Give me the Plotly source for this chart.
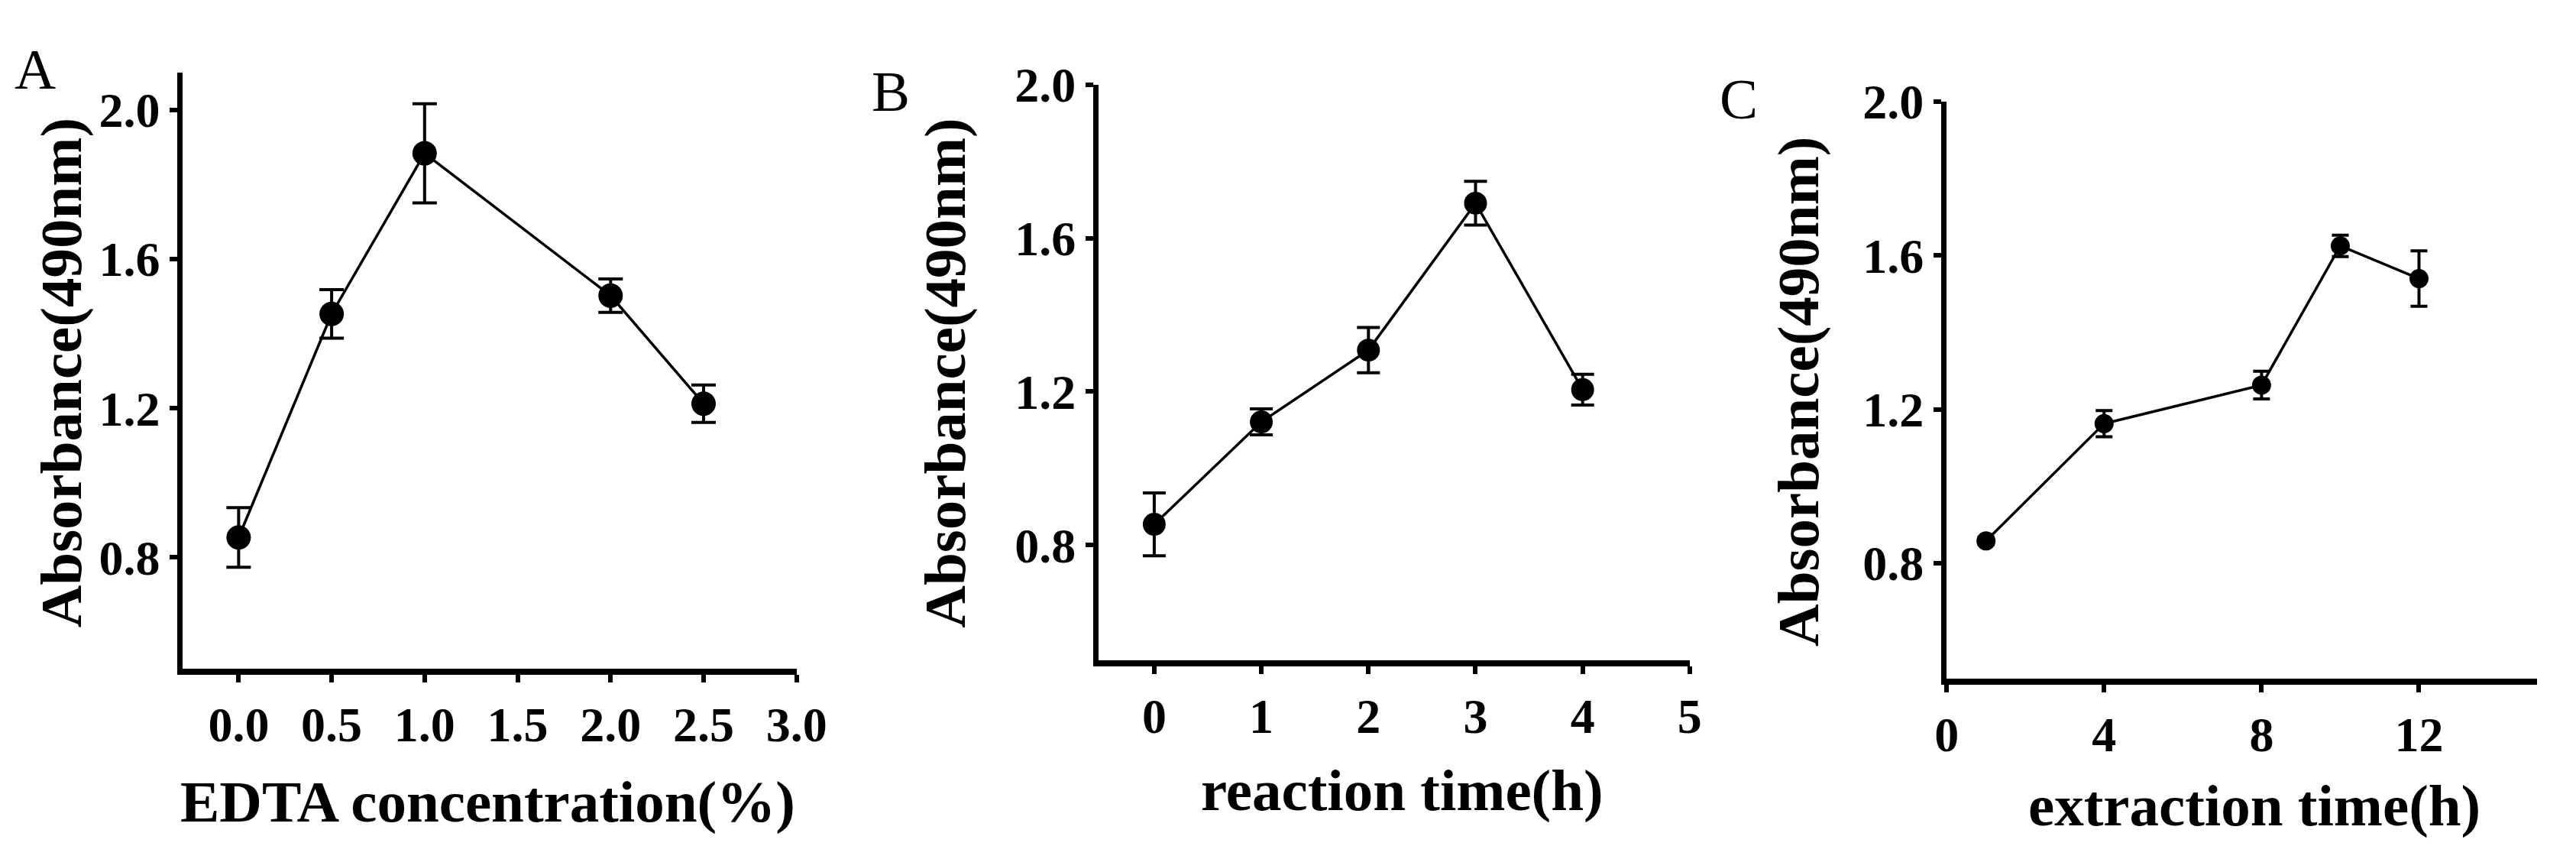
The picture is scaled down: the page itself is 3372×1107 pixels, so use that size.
import plotly.graph_objects as go

# Panel A - EDTA concentration
edta_x = [0.0, 0.5, 1.0, 2.0, 2.5]
edta_abs = [0.853, 1.453, 1.884, 1.502, 1.212]
edta_err = [0.080, 0.065, 0.133, 0.045, 0.050]

# Panel B - reaction time
rt_x = [0, 1, 2, 3, 4]
rt_abs = [0.854, 1.121, 1.308, 1.691, 1.205]
rt_err = [0.082, 0.034, 0.059, 0.057, 0.040]

# Panel C - extraction time
et_x = [1, 4, 8, 10, 12]
et_abs = [0.858, 1.163, 1.263, 1.625, 1.540]
et_err = [0.010, 0.034, 0.036, 0.028, 0.072]

y_ticks = [0.8, 1.2, 1.6, 2.0]
y_ticktext = ['0.8', '1.2', '1.6', '2.0']

# page body keeps its default 8px margin, so the figure is 16px smaller
OFF = 8
W, H = 3372 - 2 * OFF, 1107 - 2 * OFF
FONT = 'Liberation Serif'


def fx(px):
    return (px - OFF) / W


def fy(py):
    return 1 - (py - OFF) / H


fig = go.Figure()

panels = [
    (edta_x, edta_abs, edta_err, 32, 16, '', ''),
    (rt_x, rt_abs, rt_err, 30, 15, '2', '2'),
    (et_x, et_abs, et_err, 25, 11, '3', '3'),
]
for x, y, e, msize, cap, xa, ya in panels:
    fig.add_trace(go.Scatter(
        x=x, y=y, mode='lines+markers',
        line=dict(color='black', width=3.5),
        marker=dict(color='black', size=msize),
        error_y=dict(type='data', array=e, color='black', thickness=4, width=cap),
        xaxis='x' + xa, yaxis='y' + ya, showlegend=False,
    ))


def xax(dom, rng, tv, tt, anchor):
    return dict(domain=dom, range=rng, tickvals=tv, ticktext=tt, anchor=anchor,
                showline=True, linecolor='black', linewidth=8, showgrid=False, zeroline=False,
                ticks='outside', ticklen=10, tickwidth=6, tickcolor='black',
                tickfont=dict(family=FONT, size=64, color='black', weight='bold'),
                ticklabelstandoff=0)


def yax(dom, rng, anchor):
    return dict(domain=dom, range=rng, tickvals=y_ticks, ticktext=y_ticktext, anchor=anchor,
                showline=True, linecolor='black', linewidth=7, showgrid=False, zeroline=False,
                ticks='outside', ticklen=10, tickwidth=6, tickcolor='black',
                tickfont=dict(family=FONT, size=64, color='black', weight='bold'),
                ticklabelstandoff=0)


fig.update_layout(
    width=W, height=H,
    margin=dict(l=0, r=0, t=0, b=0),
    paper_bgcolor='white', plot_bgcolor='white',
    xaxis=xax([fx(227), fx(1044)], [-0.3, 3.0], [0, 0.5, 1, 1.5, 2, 2.5, 3],
              ['0.0', '0.5', '1.0', '1.5', '2.0', '2.5', '3.0'], 'y'),
    yaxis=yax([fy(868), fy(62)], [0.5, 2.1], 'x'),
    xaxis2=xax([fx(1446), fx(2233)], [-0.52, 5], [0, 1, 2, 3, 4, 5],
               ['0', '1', '2', '3', '4', '5'], 'y2'),
    yaxis2=yax([fy(856), fy(78)], [0.5, 2.0], 'x2'),
    xaxis3=xax([fx(2575), fx(3361)], [0, 15], [0, 4, 8, 12],
               ['0', '4', '8', '12'], 'y3'),
    yaxis3=yax([fy(881), fy(101)], [0.5, 2.0], 'x3'),
)

# axis titles and panel letters
labels = [
    ('EDTA concentration(%)', 633, 1047, 0, True),
    ('reaction time(h)', 1850, 1032, 0, True),
    ('extraction time(h)', 2985, 1053, 0, True),
    ('Absorbance(490nm)', 65, 468, -90, True),
    ('Absorbance(490nm)', 1242, 468, -90, True),
    ('Absorbance(490nm)', 2378, 493, -90, True),
    ('A', 30, 57, 0, False),
    ('B', 1169, 87, 0, False),
    ('C', 2298, 97, 0, False),
]
for text, px, py, ang, bold in labels:
    fig.add_annotation(
        text=text, x=fx(px), y=fy(py), xref='paper', yref='paper',
        xanchor='center', yanchor='middle', showarrow=False, textangle=ang,
        font=dict(family=FONT, size=77 if bold else 75, color='black',
                  weight='bold' if bold else 'normal'),
    )

fig.write_html("out.html")
